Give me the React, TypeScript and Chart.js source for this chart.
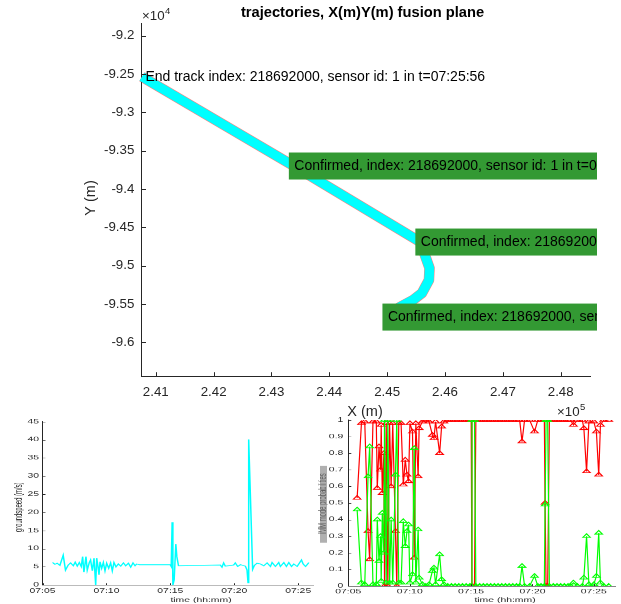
import React, { useEffect, useRef } from 'react';
import { Chart, registerables } from 'chart.js';
Chart.register(...registerables);

const FONT = '"Liberation Sans", Arial, Helvetica, sans-serif';
const AXIS = '#262626';

// ---------- top: trajectory in X/Y plane (metres) ----------
const trackX = [240760, 243387, 245574, 245671, 245732, 245723, 245602, 245446, 245221, 245005];
const trackY = [-92535, -93700, -94692, -94901, -95031, -95188, -95358, -95449, -95540, -95671];
const annIdx = [0, 1, 2, 9];
const annBoxed = [false, true, true, true];
const annText = [
  'End track index: 218692000, sensor id: 1 in t=07:25:56',
  'Confirmed, index: 218692000, sensor id: 1 in t=07:12:40',
  'Confirmed, index: 218692000, sensor id: 1 in t=07:15:20',
  'Confirmed, index: 218692000, sensor id: 1 in t=07:05:44',
];
const xTicks = [241000, 242000, 243000, 244000, 245000, 246000, 247000, 248000];
const xTickLabels = ['2.41', '2.42', '2.43', '2.44', '2.45', '2.46', '2.47', '2.48'];
const yTicks = [-92000, -92500, -93000, -93500, -94000, -94500, -95000, -95500, -96000];
const yTickLabels = ['-9.2', '-9.25', '-9.3', '-9.35', '-9.4', '-9.45', '-9.5', '-9.55', '-9.6'];

// ---------- bottom left: groundspeed (minutes after 07:00) ----------
const speedT = [5.78, 5.97, 6.15, 6.36, 6.62, 6.80, 7.01, 7.20, 7.41, 7.56,
  7.72, 7.88, 8.03, 8.14, 8.24, 8.40, 8.50, 8.66, 8.76, 8.90,
  9.03, 9.16, 9.24, 9.34, 9.42, 9.50, 9.63, 9.76, 9.89, 10.02,
  10.18, 10.33, 10.46, 10.59, 10.75, 10.93, 11.12, 11.33, 11.51, 11.72,
  11.90, 12.08, 12.24, 12.37, 12.60, 14.99, 15.07, 15.14, 15.20, 15.30,
  15.43, 15.51, 15.64, 18.91, 19.04, 19.17, 19.30, 19.95, 20.08, 20.27,
  20.48, 20.87, 21.00, 21.08, 21.13, 21.44, 21.58, 21.78, 22.05, 22.31,
  22.57, 22.83, 22.96, 23.22, 23.48, 23.61, 23.88, 24.08, 24.27, 24.48,
  24.66, 24.92, 25.26, 25.39, 25.58, 25.84];
const speedV = [6.2, 5.7, 6.0, 5.4, 8.2, 4.1, 5.5, 6.1, 5.3, 6.3,
  5.2, 6.2, 5.1, 7.8, 3.5, 7.8, 4.1, 6.2, 6.9, 3.9,
  7.4, 0.0, 7.4, 5.1, 2.8, 6.4, 4.6, 6.2, 3.9, 6.0,
  4.6, 6.1, 3.9, 6.2, 5.0, 5.8, 5.2, 6.1, 5.3, 6.0,
  4.9, 6.1, 5.3, 5.8, 5.6, 5.6, 5.1, 17.3, 0.0, 1.4,
  11.3, 7.8, 5.3, 5.5, 4.9, 6.1, 5.2, 5.5, 6.1, 5.1,
  5.6, 5.2, 4.1, 0.6, 40.1, 4.3, 5.4, 6.0, 5.8, 5.3,
  6.1, 5.1, 6.2, 5.1, 6.2, 5.1, 6.2, 5.1, 6.2, 5.1,
  5.8, 5.1, 6.9, 5.8, 5.1, 6.2];
const speedTicks = [0, 5, 10, 15, 20, 25, 30, 35, 40, 45];

// ---------- bottom right: IMM mode probabilities ----------
const immT = [5.72, 6.07, 6.34, 6.61, 6.74, 7.01, 7.28, 7.36, 7.50, 7.63,
  7.68, 7.77, 7.90, 7.95, 8.09, 8.22, 8.36, 8.49, 8.62, 8.84,
  8.95, 9.11, 9.30, 9.48, 9.64, 9.78, 9.91, 10.02, 10.23, 10.37,
  10.50, 10.69, 10.77, 11.04, 11.31, 11.58, 11.85, 11.98, 12.11, 12.44,
  12.60, 12.79, 13.10, 13.40, 13.70, 14.00, 14.30, 14.60, 14.90, 15.01,
  15.07, 15.28, 15.39, 15.70, 16.00, 16.30, 16.60, 16.90, 17.20, 17.50,
  17.80, 18.10, 18.40, 18.70, 18.96, 19.15, 19.36, 19.77, 20.17, 20.44,
  20.70, 20.97, 21.03, 21.11, 21.24, 21.38, 21.70, 22.00, 22.30, 22.60,
  22.90, 23.10, 23.34, 23.66, 24.06, 24.19, 24.41, 24.60, 25.00, 25.21,
  25.40, 25.54, 25.81, 26.21];
const immRed = [0.53, 0.98, 0.99, 0.33, 0.16, 0.99, 0.99, 0.59, 0.84, 0.70,
  0.97, 0.56, 0.80, 0.00, 0.98, 0.00, 0.98, 0.60, 0.98, 0.33,
  0.00, 0.98, 0.98, 0.61, 0.76, 0.67, 0.63, 0.98, 0.93, 0.17,
  0.98, 0.66, 0.95, 0.99, 1.00, 0.99, 0.91, 0.89, 0.99, 0.80,
  0.96, 0.99, 1.00, 1.00, 1.00, 1.00, 1.00, 1.00, 1.00, 1.00,
  0.00, 0.00, 1.00, 1.00, 1.00, 1.00, 1.00, 1.00, 1.00, 1.00,
  1.00, 1.00, 1.00, 1.00, 1.00, 0.87, 1.00, 1.00, 0.93, 1.00,
  1.00, 1.00, 0.50, 0.00, 0.00, 1.00, 1.00, 1.00, 1.00, 1.00,
  1.00, 1.00, 0.97, 1.00, 1.00, 0.95, 0.69, 0.99, 0.99, 0.93,
  0.67, 0.97, 1.00, 1.00];
const immGreen = [0.46, 0.02, 0.01, 0.66, 0.84, 0.01, 0.01, 0.40, 0.15, 0.30,
  0.03, 0.44, 0.20, 1.00, 0.02, 1.00, 0.02, 0.40, 0.02, 0.67,
  1.00, 0.02, 0.02, 0.39, 0.24, 0.33, 0.37, 0.02, 0.07, 0.83,
  0.02, 0.34, 0.05, 0.01, 0.00, 0.01, 0.09, 0.11, 0.01, 0.19,
  0.04, 0.01, 0.00, 0.00, 0.00, 0.00, 0.00, 0.00, 0.00, 0.00,
  1.00, 1.00, 0.00, 0.00, 0.00, 0.00, 0.00, 0.00, 0.00, 0.00,
  0.00, 0.00, 0.00, 0.00, 0.00, 0.12, 0.00, 0.00, 0.06, 0.00,
  0.00, 0.00, 0.49, 1.00, 1.00, 0.00, 0.00, 0.00, 0.00, 0.00,
  0.00, 0.00, 0.02, 0.00, 0.00, 0.05, 0.30, 0.01, 0.01, 0.06,
  0.32, 0.02, 0.00, 0.00];
const probTicks = [0, 0.1, 0.2, 0.3, 0.4, 0.5, 0.6, 0.7, 0.8, 0.9, 1];
const probTickLabels = ['0', '0.1', '0.2', '0.3', '0.4', '0.5', '0.6', '0.7', '0.8', '0.9', '1'];

const timeTicks = [5, 10, 15, 20, 25];
const timeTickLabels = ['07:05', '07:10', '07:15', '07:20', '07:25'];

const SQ = 0.57; // vertical squash of the bottom panels
const BOT_H = 366;

function inwardTicks(len: number) {
  return {
    id: 'inwardTicks',
    afterDatasetsDraw(chart: any) {
      const { ctx, chartArea: a, scales } = chart;
      ctx.save();
      ctx.strokeStyle = AXIS;
      ctx.lineWidth = 1;
      ctx.beginPath();
      scales.x.ticks.forEach((t: any) => {
        const px = Math.round(scales.x.getPixelForValue(t.value)) + 0.5;
        ctx.moveTo(px, a.bottom);
        ctx.lineTo(px, a.bottom - len);
      });
      scales.y.ticks.forEach((t: any) => {
        const py = Math.round(scales.y.getPixelForValue(t.value)) + 0.5;
        ctx.moveTo(a.left, py);
        ctx.lineTo(a.left + len, py);
      });
      ctx.stroke();
      ctx.restore();
    },
  };
}

function rotText(ctx: CanvasRenderingContext2D, text: string, x: number, y: number) {
  ctx.save();
  ctx.translate(x, y);
  ctx.rotate(-Math.PI / 2);
  ctx.textAlign = 'center';
  ctx.textBaseline = 'middle';
  ctx.fillText(text, 0, 0);
  ctx.restore();
}

function expText(ctx: CanvasRenderingContext2D, exp: string, x: number, y: number) {
  ctx.save();
  ctx.fillStyle = AXIS;
  ctx.textAlign = 'left';
  ctx.textBaseline = 'middle';
  ctx.font = `13.3px ${FONT}`;
  ctx.fillText('\u00d710', x, y);
  const w = ctx.measureText('\u00d710').width;
  ctx.font = `9.5px ${FONT}`;
  ctx.fillText(exp, x + w + 0.5, y - 5);
  ctx.restore();
}

function fixedTicks(values: number[]) {
  return (s: any) => {
    s.ticks = values.map((v) => ({ value: v }));
  };
}

function axisOpts(min: number, max: number, ticks: number[], labels: string[], size: number, pad: number, fit: (s: any) => void) {
  return {
    type: 'linear' as const,
    min,
    max,
    grid: { display: false, drawTicks: false },
    border: { display: true, color: AXIS, width: 1 },
    ticks: {
      color: AXIS,
      font: { family: FONT, size },
      padding: pad,
      autoSkip: false,
      maxRotation: 0,
      minRotation: 0,
      callback: (_v: any, i: number) => labels[i],
    },
    afterBuildTicks: fixedTicks(ticks),
    afterFit: fit,
  };
}

export default function App() {
  const topRef = useRef<HTMLCanvasElement>(null);
  const leftRef = useRef<HTMLCanvasElement>(null);
  const rightRef = useRef<HTMLCanvasElement>(null);

  useEffect(() => {
    const trackPts = trackX.map((x, i) => ({ x, y: trackY[i] }));
    const topExtras = {
      id: 'topExtras',
      afterDraw(chart: any) {
        const { ctx, scales } = chart;
        ctx.save();
        ctx.beginPath();
        ctx.rect(0, 0, 597, chart.height);
        ctx.clip();
        annIdx.forEach((idx, k) => {
          const px = scales.x.getPixelForValue(trackX[idx]);
          const py = scales.y.getPixelForValue(trackY[idx]);
          if (annBoxed[k]) {
            ctx.fillStyle = '#339933';
            ctx.fillRect(px - 5, py - 13.5, 597 - (px - 5), 27);
          }
          ctx.fillStyle = '#000';
          ctx.font = `14px ${FONT}`;
          ctx.textAlign = 'left';
          ctx.textBaseline = 'middle';
          ctx.fillText(annText[k], px + (annBoxed[k] ? 0.5 : 3.5), py);
        });
        ctx.restore();

        ctx.save();
        ctx.fillStyle = '#000';
        ctx.font = `bold 14.7px ${FONT}`;
        ctx.textAlign = 'center';
        ctx.textBaseline = 'middle';
        ctx.fillText('trajectories, X(m)Y(m) fusion plane', 362.5, 13);
        ctx.fillStyle = AXIS;
        ctx.font = `14.5px ${FONT}`;
        rotText(ctx, 'Y (m)', 91, 198);
        ctx.textAlign = 'center';
        ctx.textBaseline = 'middle';
        ctx.fillText('X (m)', 365, 412);
        ctx.restore();
        expText(ctx, '4', 142, 16);
        expText(ctx, '5', 557, 412.5);
      },
    };

    const top = new Chart(topRef.current!, {
      type: 'scatter',
      data: {
        datasets: [
          { data: trackPts, showLine: true, borderColor: '#00FFFF', borderWidth: 9.5, pointRadius: 0, clip: false as any, borderJoinStyle: 'round' },
          { data: trackPts, showLine: true, borderColor: 'rgba(255,0,0,0.5)', borderWidth: 10.5, pointRadius: 0, clip: false as any, borderJoinStyle: 'round' },
        ],
      },
      options: {
        animation: false,
        responsive: false,
        devicePixelRatio: 1,
        layout: { padding: { left: 0, right: 31, top: 23, bottom: 0 } },
        plugins: { legend: { display: false }, tooltip: { enabled: false } },
        scales: {
          x: axisOpts(240753, 248507, xTicks, xTickLabels, 13.3, 7.5, (s: any) => { s.height = 43.3; }),
          y: axisOpts(-96449, -91834, yTicks, yTickLabels, 13.3, 7.2, (s: any) => { s.width = 141.5; }),
        },
      },
      plugins: [inwardTicks(4.5), topExtras],
    });

    const leftExtras = {
      id: 'leftExtras',
      afterDraw(chart: any) {
        const { ctx } = chart;
        ctx.save();
        ctx.fillStyle = AXIS;
        ctx.font = `10.4px ${FONT}`;
        rotText(ctx, 'groundspeed (m/s)', 19, 197);
        ctx.textAlign = 'center';
        ctx.textBaseline = 'middle';
        ctx.fillText('time (hh:mm)', 201, 360);
        ctx.restore();
      },
    };

    const left = new Chart(leftRef.current!, {
      type: 'scatter',
      data: {
        datasets: [
          { data: speedT.map((t, i) => ({ x: t, y: speedV[i] })), showLine: true, borderColor: '#00FFFF', borderWidth: 1.5, pointRadius: 0 },
        ],
      },
      options: {
        animation: false,
        responsive: false,
        devicePixelRatio: 1,
        layout: { padding: { left: 0, right: 16.5, top: 46.8, bottom: 0 } },
        plugins: { legend: { display: false }, tooltip: { enabled: false } },
        scales: {
          x: axisOpts(5, 26.2, timeTicks, timeTickLabels, 10.4, 5, (s: any) => { s.height = BOT_H - 333.3; }),
          y: axisOpts(0, 45, speedTicks, speedTicks.map(String), 10.4, 3.5, (s: any) => { s.width = 42.5; }),
        },
      },
      plugins: [inwardTicks(3), leftExtras],
    });

    const rightExtras = {
      id: 'rightExtras',
      beforeDraw(chart: any) {
        const { ctx } = chart;
        ctx.save();
        ctx.fillStyle = '#b0b0b0';
        ctx.fillRect(4, 124, 7, 135);
        ctx.restore();
      },
      afterDraw(chart: any) {
        const { ctx } = chart;
        ctx.save();
        ctx.fillStyle = '#606060';
        ctx.font = `10.4px ${FONT}`;
        rotText(ctx, 'IMM mode probabilities', 7.5, 191);
        ctx.fillStyle = AXIS;
        ctx.textAlign = 'center';
        ctx.textBaseline = 'middle';
        ctx.fillText('time (hh:mm)', 189, 360);
        ctx.restore();
      },
    };

    const tri = (color: string) => ({
      showLine: true,
      borderColor: color,
      borderWidth: 1.2,
      pointStyle: 'triangle' as const,
      pointRadius: 4.3,
      pointBorderColor: color,
      pointBackgroundColor: 'rgba(0,0,0,0)',
      pointBorderWidth: 1.4,
    });

    const right = new Chart(rightRef.current!, {
      type: 'scatter',
      data: {
        datasets: [
          { data: immT.map((t, i) => ({ x: t, y: immGreen[i] })), ...tri('#00FF00') },
          { data: immT.map((t, i) => ({ x: t, y: immRed[i] })), ...tri('#FF0000') },
        ],
      },
      options: {
        animation: false,
        responsive: false,
        devicePixelRatio: 1,
        layout: { padding: { left: 0, right: 2, top: 43.9, bottom: 0 } },
        plugins: { legend: { display: false }, tooltip: { enabled: false } },
        scales: {
          x: axisOpts(5, 26.75, timeTicks, timeTickLabels, 10.4, 4, (s: any) => { s.height = BOT_H - 335.1; }),
          y: axisOpts(0, 1, probTicks, probTickLabels, 10.4, 5, (s: any) => { s.width = 32.3; }),
        },
      },
      plugins: [inwardTicks(3), rightExtras],
    });

    return () => {
      top.destroy();
      left.destroy();
      right.destroy();
    };
  }, []);

  return (
    <div style={{ position: 'absolute', left: 0, top: 0, width: 621, height: 604, background: '#fff', overflow: 'hidden' }}>
      <div style={{ position: 'absolute', left: 0, top: 395, width: 330, height: BOT_H, transform: `scaleY(${SQ})`, transformOrigin: '0 0' }}>
        <canvas ref={leftRef} width={330} height={BOT_H} style={{ display: 'block' }} />
      </div>
      <div style={{ position: 'absolute', left: 316, top: 395, width: 305, height: BOT_H, transform: `scaleY(${SQ})`, transformOrigin: '0 0' }}>
        <canvas ref={rightRef} width={305} height={BOT_H} style={{ display: 'block' }} />
      </div>
      <canvas ref={topRef} width={621} height={420} style={{ position: 'absolute', left: 0, top: 0, display: 'block' }} />
    </div>
  );
}
